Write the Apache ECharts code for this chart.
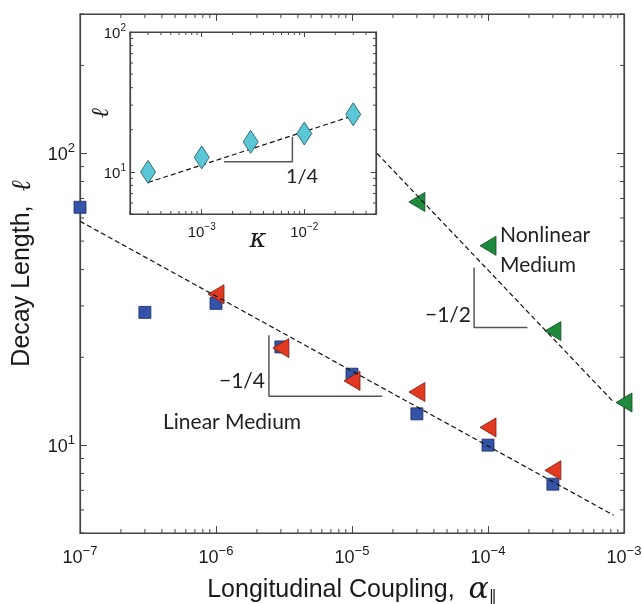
<!DOCTYPE html>
<html>
<head>
<meta charset="utf-8">
<script src="https://cdn.jsdelivr.net/npm/echarts@6/dist/echarts.min.js"></script>
<style>html,body{margin:0;padding:0;background:#fff}#graphs{width:642px;height:604px}</style>
</head>
<body>
<div id="graphs"></div>
<script>
var myChart = echarts.init(document.getElementById('graphs'));

// main panel: decay length vs longitudinal coupling
var couplingBlue = [1e-7, 3e-7, 1e-6, 3e-6, 1e-5, 3e-5, 1e-4, 3e-4];
var lengthBlue = [65.3, 28.5, 30.6, 21.7, 17.5, 12.8, 10.0, 7.35];
var couplingRed = [1e-6, 3e-6, 1e-5, 3e-5, 1e-4, 3e-4];
var lengthRed = [32.9, 21.5, 16.6, 15.2, 11.5, 8.2];
var couplingGreen = [3e-5, 1e-4, 3e-4, 1e-3];
var lengthGreen = [68.1, 48.2, 24.6, 14.0];
// dashed fits, end points
var linearFit = [[1e-7, 58.5], [8.4e-4, 5.75]];
var nonlinearFit = [[1.53e-5, 99.8], [8.2e-4, 14.2]];
// slope triangles
var slopeLinear = [[2.45e-6, 23.8], [2.45e-6, 14.7], [1.67e-5, 14.7]];
var slopeNonlinear = [[7.9e-5, 40.6], [7.9e-5, 25.3], [1.95e-4, 25.3]];

// inset: decay length vs kappa
var kappa = [3e-4, 1e-3, 3e-3, 1e-2, 3e-2];
var lengthKappa = [10.0, 12.7, 16.4, 18.8, 25.8];
var kappaFit = [[3e-4, 8.4], [2.8e-2, 24.8]];
var slopeKappa = [[1.65e-3, 11.8], [7.66e-3, 11.8], [7.66e-3, 17.8]];

var AX = '#444';
var TXT = '#1a1a1a';
var ANN = "Lato, 'Open Sans', sans-serif";
var SANS = "'Liberation Sans', Arial, sans-serif";

function zip(xs, ys) { return xs.map(function (x, i) { return [x, ys[i]]; }); }

// 2..9 x 10^k between lo and hi
function minorVals(lo, hi) {
    var out = [];
    for (var k = Math.floor(Math.log10(lo)) ; k <= Math.ceil(Math.log10(hi)); k++) {
        for (var m = 2; m <= 9; m++) {
            var v = m * Math.pow(10, k);
            if (v >= lo * 0.9999 && v <= hi * 1.0001) out.push(v);
        }
    }
    return out;
}

function supLabel(v) {
    var lv = Math.log10(v);
    var e = Math.round(lv);
    if (Math.abs(lv - e) > 1e-6) return '';
    return '{b|10}{s|' + (e < 0 ? '\u2212' + (-e) : e) + '}';
}

function rich(big, small, raise) {
    return {
        b: {fontSize: big, fontFamily: SANS, color: TXT, verticalAlign: 'bottom'},
        s: {fontSize: small, fontFamily: SANS, color: TXT, verticalAlign: 'bottom', padding: [0, 0, raise, 0]}
    };
}

function minorTicks(xi, yi, xs, ys, xmin, ymin, len) {
    var data = xs.map(function (v) { return [v, ymin, 0]; })
        .concat(ys.map(function (v) { return [xmin, v, 1]; }));
    return {
        type: 'custom', xAxisIndex: xi, yAxisIndex: yi, silent: true, z: 1,
        data: data,
        renderItem: function (params, api) {
            var cs = params.coordSys;
            var p = api.coord([api.value(0), api.value(1)]);
            var st = {stroke: AX, lineWidth: 1};
            if (api.value(2) === 0) {
                return {type: 'group', children: [
                    {type: 'line', shape: {x1: p[0], y1: cs.y + cs.height, x2: p[0], y2: cs.y + cs.height - len}, style: st},
                    {type: 'line', shape: {x1: p[0], y1: cs.y, x2: p[0], y2: cs.y + len}, style: st}
                ]};
            }
            return {type: 'group', children: [
                {type: 'line', shape: {x1: cs.x, y1: p[1], x2: cs.x + len, y2: p[1]}, style: st},
                {type: 'line', shape: {x1: cs.x + cs.width, y1: p[1], x2: cs.x + cs.width - len, y2: p[1]}, style: st}
            ]};
        }
    };
}

function logAxis(grid, lo, hi, pos, showLabel, tickLen, big, small, raise, margin) {
    return {
        gridIndex: grid, type: 'log', logBase: 10, min: lo, max: hi, position: pos,
        axisLine: {lineStyle: {color: AX, width: 1.2}},
        axisTick: {inside: true, length: tickLen, lineStyle: {color: AX}},
        minorTick: {show: false},
        splitLine: {show: false},
        axisLabel: {show: showLabel, formatter: supLabel, margin: margin, rich: rich(big, small, raise)}
    };
}

var xMain = logAxis(0, 1e-7, 1e-3, 'bottom', true, 7, 18, 13, 9, 12);
xMain.name = '{n|Longitudinal Coupling,  }{a|\u03b1}{u|\u2225}';
xMain.nameLocation = 'middle';
xMain.nameGap = 42;
xMain.nameTextStyle = {rich: {
    n: {fontSize: 25, fontFamily: SANS, color: TXT},
    a: {fontSize: 30, fontFamily: 'DejaVu Serif', fontStyle: 'italic', color: TXT},
    u: {fontSize: 16, fontFamily: 'DejaVu Sans', color: TXT, padding: [14, 0, 0, 0]}
}};
var yMain = logAxis(0, 5, 300, 'left', true, 7, 18, 13, 9, 5);
yMain.name = '{n|Decay Length,  }{l|\u2113}';
yMain.nameLocation = 'middle';
yMain.nameGap = 44;
yMain.nameTextStyle = {rich: {
    n: {fontSize: 25, fontFamily: SANS, color: TXT},
    l: {fontSize: 27, fontFamily: 'DejaVu Serif', fontStyle: 'italic', color: TXT}
}};
var xInset = logAxis(1, 2e-4, 5e-2, 'bottom', true, 5, 15, 10, 8, 8);
var yInset = logAxis(1, 5, 100, 'left', true, 5, 15, 10, 8, 4);

var option = {
    backgroundColor: '#fff',
    animation: false,
    grid: [
        {left: 80, top: 14, width: 544, height: 519, show: true, borderColor: AX, borderWidth: 1.2,
         backgroundColor: '#fff', outerBoundsMode: 'none', containLabel: false},
        {left: 130, top: 32, width: 246, height: 182, show: true, borderColor: AX, borderWidth: 1.2,
         backgroundColor: '#fff', outerBoundsMode: 'none', containLabel: false}
    ],
    xAxis: [
        xMain,
        logAxis(0, 1e-7, 1e-3, 'top', false, 7, 17, 12, 9, 8),
        xInset,
        logAxis(1, 2e-4, 5e-2, 'top', false, 5, 15, 10, 8, 8)
    ],
    yAxis: [
        yMain,
        logAxis(0, 5, 300, 'right', false, 7, 17, 12, 9, 8),
        yInset,
        logAxis(1, 5, 100, 'right', false, 5, 15, 10, 8, 8)
    ],
    series: [
        minorTicks(0, 0, minorVals(1e-7, 1e-3), minorVals(5, 300), 1e-7, 5, 4),
        minorTicks(2, 2, minorVals(2e-4, 5e-2), minorVals(5, 100), 2e-4, 5, 3),
        {
            name: 'linear, square', type: 'scatter', xAxisIndex: 0, yAxisIndex: 0, z: 3,
            data: zip(couplingBlue, lengthBlue), symbol: 'rect', symbolSize: 12,
            itemStyle: {color: '#3553a8', borderColor: '#1c2c60', borderWidth: 0.8, opacity: 1}
        },
        {
            name: 'linear, triangle', type: 'scatter', xAxisIndex: 0, yAxisIndex: 0, z: 4,
            data: zip(couplingRed, lengthRed), symbol: 'triangle', symbolSize: [19, 16], symbolRotate: 90,
            itemStyle: {color: '#e23a22', borderColor: '#7a1c0c', borderWidth: 0.8, opacity: 1}
        },
        {
            name: 'nonlinear', type: 'scatter', xAxisIndex: 0, yAxisIndex: 0, z: 4,
            data: zip(couplingGreen, lengthGreen), symbol: 'triangle', symbolSize: [19, 16], symbolRotate: 90,
            itemStyle: {color: '#1e8a3e', borderColor: '#0c4a1c', borderWidth: 0.8, opacity: 1}
        },
        {
            name: 'linear fit', type: 'line', xAxisIndex: 0, yAxisIndex: 0, z: 5, data: linearFit,
            symbol: 'none', lineStyle: {color: '#111', width: 1.2, type: [5, 3]}
        },
        {
            name: 'nonlinear fit', type: 'line', xAxisIndex: 0, yAxisIndex: 0, z: 5, data: nonlinearFit,
            symbol: 'none', lineStyle: {color: '#111', width: 1.2, type: [5, 3]}
        },
        {
            name: 'slope linear', type: 'line', xAxisIndex: 0, yAxisIndex: 0, z: 2, data: slopeLinear,
            symbol: 'none', lineStyle: {color: '#555', width: 1.5}
        },
        {
            name: 'slope nonlinear', type: 'line', xAxisIndex: 0, yAxisIndex: 0, z: 2, data: slopeNonlinear,
            symbol: 'none', lineStyle: {color: '#555', width: 1.5}
        },
        {
            name: 'kappa fit', type: 'line', xAxisIndex: 2, yAxisIndex: 2, z: 3, data: kappaFit,
            symbol: 'none', lineStyle: {color: '#111', width: 1.2, type: [5, 3]}
        },
        {
            name: 'slope kappa', type: 'line', xAxisIndex: 2, yAxisIndex: 2, z: 2, data: slopeKappa,
            symbol: 'none', lineStyle: {color: '#555', width: 1.5}
        },
        {
            name: 'kappa', type: 'scatter', xAxisIndex: 2, yAxisIndex: 2, z: 4,
            data: zip(kappa, lengthKappa), symbol: 'diamond', symbolSize: [15, 23],
            itemStyle: {color: '#5bc6d6', borderColor: '#1d5560', borderWidth: 0.8, opacity: 1}
        }
    ],
    graphic: [
        {type: 'text', left: 163, top: 412, style: {text: 'Linear Medium', font: '21px ' + ANN, fill: '#222'}},
        {type: 'text', x: 265, y: 381, style: {text: '\u22121/4', font: '21px ' + ANN, fill: '#222', align: 'right', verticalAlign: 'middle'}},
        {type: 'text', x: 500, y: 235, style: {text: 'Nonlinear', font: '21px ' + ANN, fill: '#222', verticalAlign: 'middle'}},
        {type: 'text', x: 500, y: 265, style: {text: 'Medium', font: '21px ' + ANN, fill: '#222', verticalAlign: 'middle'}},
        {type: 'text', x: 471, y: 315, style: {text: '\u22121/2', font: '21px ' + ANN, fill: '#222', align: 'right', verticalAlign: 'middle'}},
        {type: 'text', x: 302, y: 177, style: {text: '1/4', font: '20px ' + ANN, fill: '#222', align: 'center', verticalAlign: 'middle'}},
        // inset axis names
        {type: 'text', x: 258, y: 240, style: {text: '\u03ba', font: 'italic 26px "DejaVu Serif"', fill: TXT, align: 'center', verticalAlign: 'middle'}},
        {type: 'text', x: 102, y: 113, rotation: Math.PI / 2, style: {text: '\u2113', font: 'italic 24px "DejaVu Serif"', fill: TXT, align: 'center', verticalAlign: 'middle'}}
    ]
};

myChart.setOption(option);
</script>
</body>
</html>
